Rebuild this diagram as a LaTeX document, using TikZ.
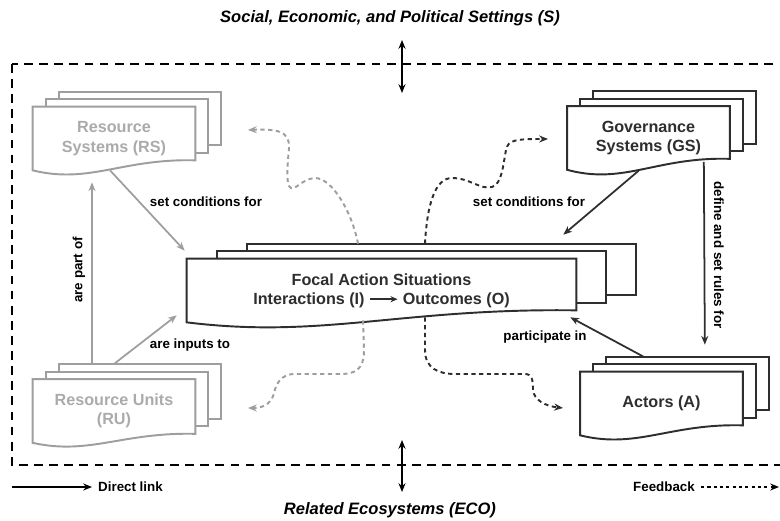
\documentclass[tikz,border=0pt]{standalone}
\usepackage{fontspec}
\setmainfont{Liberation Sans}
\usetikzlibrary{arrows.meta,calc,backgrounds}

\definecolor{dark}{HTML}{2E2E2E}
\definecolor{light}{HTML}{9E9E9E}
\definecolor{lighttext}{HTML}{ABABAB}

\newcommand{\pagestack}[5]{%
  \begin{scope}[on background layer]
    \filldraw[#2,fill=white,line width=1.1pt] ([shift={(2*#3,-2*#4)}]#1.north west) rectangle ([shift={(2*#3,-2*#4-#5)}]#1.south east);
    \filldraw[#2,fill=white,line width=1.1pt] ([shift={(#3,-#4)}]#1.north west) rectangle ([shift={(#3,-#4-#5)}]#1.south east);
    \filldraw[#2,fill=white,line width=1.1pt] (#1.north west) -- (#1.north east) -- ([shift={(0,-#5)}]#1.south east)
      .. controls ($(#1.south west)!0.55!(#1.south east)+(0,-1.2*#5)$) and ($(#1.south west)!0.35!(#1.south east)+(0,1.4*#5)$) .. (#1.south west) -- cycle;
  \end{scope}}
\newcommand{\ioarrow}{\tikz[baseline=-0.6ex]\draw[-{Stealth[length=4pt,width=3.5pt]},line width=1pt,dark] (0,0) -- (0.55cm,0);}

\tikzset{
  pages/.style={font=\fontsize{9.2}{11}\selectfont\bfseries, text=dark, align=center,
    minimum width=3.24cm, minimum height=1.26cm, inner sep=0pt},
  lbl/.style={font=\fontsize{7.6}{9}\selectfont\bfseries, text=black},
  title/.style={font=\fontsize{9.4}{11}\selectfont\bfseries\itshape},
  link/.style={-{Stealth[length=5pt,width=4pt]}, line width=1pt},
  fb/.style={-{Stealth[length=5pt,width=4pt]}, line width=1.1pt, dash pattern=on 2.4pt off 2pt},
  frame/.style={line width=1.6pt, dash pattern=on 5pt off 3.6pt},
}

\begin{document}
\begin{tikzpicture}[x=0.02cm, y=-0.02cm]
\useasboundingbox (0,0) rectangle (780,520);
\clip (0,0) rectangle (780,520);

\node[title] (set) at (390,18) {Social, Economic, and Political Settings (S)};
\node[title] (eco) at (390,510) {Related Ecosystems (ECO)};
\draw[frame] (12,64) rectangle (800,465);
\coordinate (st) at (402,40);
\coordinate (sb) at (402,93);
\coordinate (et) at (402,440);
\coordinate (eb) at (402,492);
\draw[{Stealth[length=5pt,width=4pt]}-{Stealth[length=5pt,width=4pt]}, line width=1pt] (st) -- (sb);
\draw[{Stealth[length=5pt,width=4pt]}-{Stealth[length=5pt,width=4pt]}, line width=1pt] (et) -- (eb);

\node[pages, text=lighttext] (rs) at (114,138.5) {Resource\\Systems (RS)};
\node[pages] (gs) at (648.5,138) {Governance\\Systems (GS)};
\node[pages, minimum width=7.78cm] (fas) at (381.5,290.5) {Focal Action Situations\\Interactions (I) \ioarrow{} Outcomes (O)};
\node[pages, text=lighttext] (ru) at (114,411) {Resource Units\\(RU)};
\node[pages] (act) at (661.5,403.5) {Actors (A)};
\pagestack{rs}{light}{13}{7.5}{10}
\pagestack{gs}{dark}{13}{7.5}{11}
\pagestack{fas}{dark}{30}{7.5}{12}
\pagestack{ru}{light}{13}{7.5}{9}
\pagestack{act}{dark}{13}{7.5}{10}

\draw[link, light] ([shift={(-22,-15)}]ru.north) -- ([shift={(-22,12)}]rs.south);
\node[lbl, rotate=90] (partlbl) at (79,270) {are part of};
\draw[link, light] ([shift={(-4,0)}]rs.south) -- ([shift={(-2,-8)}]fas.north west);
\node[lbl] (rslbl) at (206,202) {set conditions for};
\draw[link, light] ([shift={(1,-16)}]ru.north) -- ([shift={(-10,-7)}]fas.south west);
\node[lbl] (rulbl) at (190,345) {are inputs to};
\draw[link, dark] ([shift={(-10,1)}]gs.south) -- ([shift={(-13,-24)}]fas.north east);
\node[lbl] (gslbl) at (529,202) {set conditions for};
\draw[link, dark] ([shift={(-26,-8)}]gs.south east) -- ([shift={(-38,-27)}]act.north east);
\node[lbl, rotate=-90] (rulelbl) at (719,255) {define and set rules for};
\draw[link, dark] ([shift={(-18,-15)}]act.north) -- ([shift={(-6,-5)}]fas.south east);
\node[lbl] (actlbl) at (545,337) {participate in};

\coordinate (fbrs) at (248,130);
\coordinate (fbgs) at (548,139);
\coordinate (fbru) at (248,408);
\coordinate (fbact) at (563,408);
\draw[fb, light] ([shift={(-23.5,-15)}]fas.north) .. controls (352,212) and (332,178) .. (315,178)
  .. controls (302,179) and (296,190) .. (291,188) .. controls (285,186) and (288,160) .. (289,148)
  .. controls (290,130) and (275,129) .. (fbrs);
\draw[fb, dark] ([shift={(43.5,-15)}]fas.north) .. controls (427,205) and (435,178) .. (452,178)
  .. controls (470,178) and (480,190) .. (492,187) .. controls (502,184) and (503,165) .. (506,150)
  .. controls (508,140) and (515,139) .. (fbgs);
\draw[fb, light] ([shift={(-18.5,-2)}]fas.south) -- (364,350) .. controls (364,370) and (355,374) .. (340,374)
  -- (295,374) .. controls (280,374) and (276,385) .. (274,393) .. controls (272,402) and (265,408) .. (fbru);
\draw[fb, dark] ([shift={(43.5,-5)}]fas.south) -- (425,350) .. controls (425,368) and (438,374) .. (455,374)
  -- (525,374) .. controls (532,374) and (533,380) .. (533,390) .. controls (534,400) and (545,406) .. (fbact);

\coordinate (dl) at (12,487);
\node[lbl, anchor=west] (dltxt) at (92,487) {Direct link};
\draw[link] (dl) -- (dltxt.west);
\node[lbl, anchor=east] (fbtxt) at (701,487) {Feedback};
\coordinate (fbend) at (779,487);
\draw[fb, dash pattern=on 1.8pt off 1.8pt] (fbtxt.east) -- (fbend);
\end{tikzpicture}
\end{document}
